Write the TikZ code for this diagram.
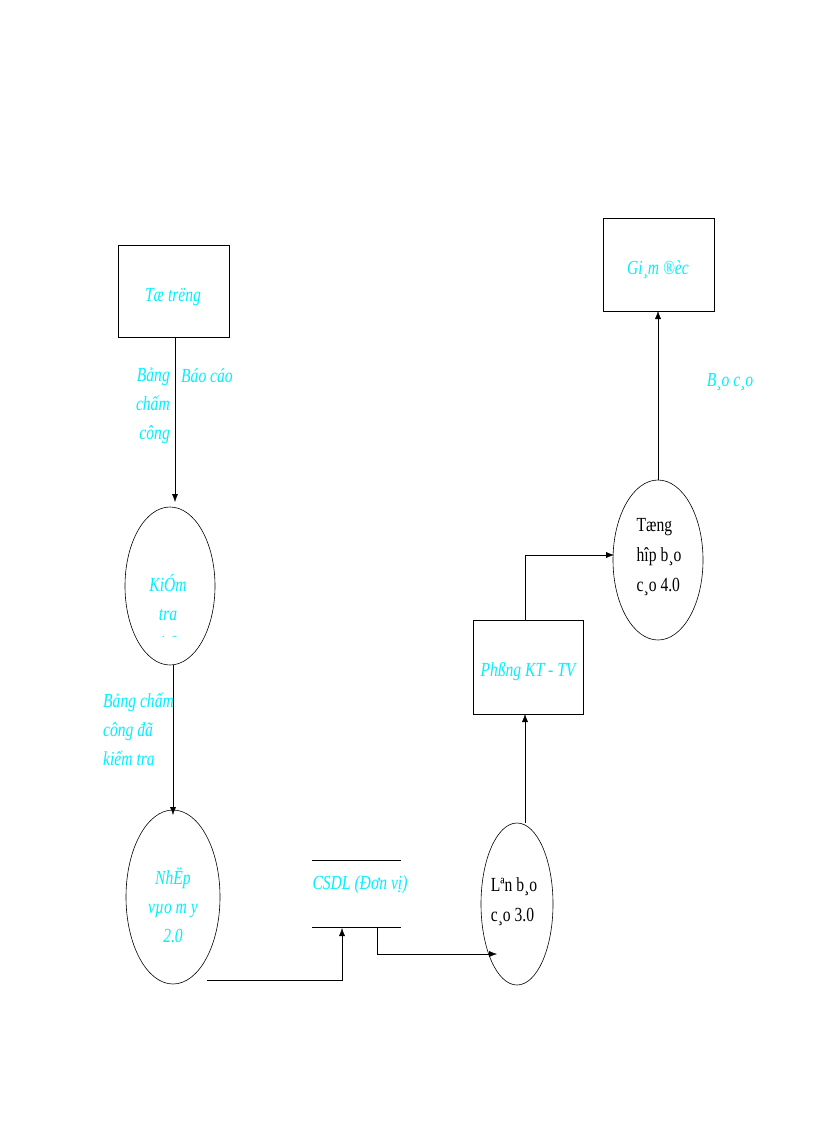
\documentclass[tikz,border=0pt]{standalone}
\usepackage{fontspec}
\setmainfont{Liberation Serif}
\newfontfamily\narrowf{Liberation Serif}[FakeStretch=0.78]
\usetikzlibrary{arrows.meta}
\definecolor{cy}{RGB}{0,240,255}
\begin{document}
\begin{tikzpicture}[x=1pt,y=-1pt,
  lbl/.style={text=cy,font=\narrowf\itshape\fontsize{20}{29}\selectfont,inner sep=0pt},
  blk/.style={text=black,font=\narrowf\fontsize{20}{30}\selectfont,inner sep=0pt},
  box/.style={draw,thick,inner sep=0pt},
  arr/.style={-{Latex[length=8pt,width=6pt]}}]
\useasboundingbox (0,0) rectangle (816,1123);
\node[box,minimum width=111pt,minimum height=92pt] (tt) at (173.5,291) {};
\node[lbl] at (173,297) {Tæ trëng};
\node[box,minimum width=111pt,minimum height=93pt] (gd) at (658.5,264.5) {};
\node[lbl] at (658,270) {Gi¸m ®èc};
\node[box,minimum width=110pt,minimum height=94pt] (pk) at (528,667) {};
\node[lbl] at (528,672) {Phßng KT - TV};
\draw[semithick] (170,586) ellipse [x radius=45,y radius=79];
\begin{scope}
\clip (100,500) rectangle (240,636);
\node[lbl,align=center] at (168,612) {KiÓm\\tra\\1.0};
\end{scope}
\draw[semithick] (173,897) ellipse [x radius=47,y radius=87];
\node[lbl,align=center] at (173,905) {NhËp\\vµo m y\\2.0};
\draw[semithick] (517,904) ellipse [x radius=36,y radius=81];
\node[blk,align=left] at (514,902) {Lªn b¸o\\c¸o 3.0};
\draw[semithick] (658,560) ellipse [x radius=45,y radius=80];
\node[blk,align=left] at (659,557) {Tæng\\hîp b¸o\\c¸o 4.0};
\coordinate (c1) at (312,860); \coordinate (c2) at (401,860);
\coordinate (c3) at (312,927); \coordinate (c4) at (401,927);
\draw[thick] (c1) -- (c2); \draw[thick] (c3) -- (c4);
\node[lbl] at (360,885) {CSDL (Đơn vị)};
\coordinate (a1) at (175,337); \coordinate (a2) at (175,502);
\draw[arr] (a1) -- (a2);
\node[lbl,align=right,anchor=north east] at (170,368) {Bảng\\chấm\\công};
\node[lbl,anchor=north west] at (181,368) {Báo cáo};
\coordinate (b1) at (173,665); \coordinate (b2) at (173,815);
\draw[arr] (b1) -- (b2);
\node[lbl,align=left,anchor=north west] at (103,693) {Bảng chấm\\công đã\\kiểm tra};
\coordinate (d1) at (207,980); \coordinate (d2) at (342,980); \coordinate (d3) at (342,928);
\draw[arr] (d1) -- (d2) -- (d3);
\coordinate (e1) at (377,927); \coordinate (e2) at (377,954); \coordinate (e3) at (497,954);
\draw[arr] (e1) -- (e2) -- (e3);
\coordinate (f1) at (525,823); \coordinate (f2) at (525,714);
\draw[arr] (f1) -- (f2);
\coordinate (g1) at (525,620); \coordinate (g2) at (525,555); \coordinate (g3) at (614,555);
\draw[arr] (g1) -- (g2) -- (g3);
\coordinate (h1) at (658,480); \coordinate (h2) at (658,311);
\draw[arr] (h1) -- (h2);
\node[lbl] at (730,382) {B¸o c¸o};
\end{tikzpicture}
\end{document}
